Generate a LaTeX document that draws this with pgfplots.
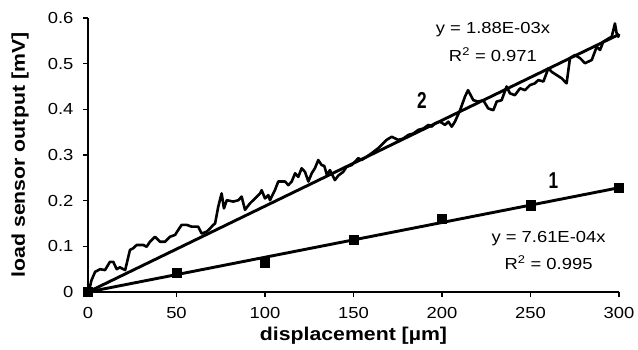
\documentclass[border=0pt]{standalone}
\usepackage{fontspec}
\setmainfont{Liberation Sans}[FakeStretch=1.15]
\usepackage{pgfplots}
\pgfplotsset{compat=1.18}
\begin{document}
\begin{tikzpicture}
\useasboundingbox (-88pt,-57pt) rectangle (550pt,292pt);
\begin{axis}[
 at={(0pt,0pt)}, anchor=south west,
 scale only axis, width=531pt, height=274pt,
 xmin=0, xmax=300, ymin=0, ymax=0.6,
 axis lines=left, axis line style={-, line width=1.3pt},
 tick align=outside, major tick length=5pt, tick style={line width=1.3pt, black},
 xtick={0,50,100,150,200,250,300}, xticklabels={0,50,100,150,200,250,300},
 ytick={0,0.1,0.2,0.3,0.4,0.5,0.6}, yticklabels={0,0.1,0.2,0.3,0.4,0.5,0.6},
 ticklabel style={font=\fontsize{16}{19}\selectfont},
 xticklabel style={yshift=-7pt},
 yticklabel style={xshift=-6pt},
 xlabel={displacement [µm]}, ylabel={load sensor output [mV]},
 label style={font=\fontsize{18.5}{22}\selectfont\bfseries},
 x label style={at={(axis description cs:0.5,-0.158)}, anchor=center},
 y label style={at={(axis description cs:-0.128,0.5)}, anchor=center},
 clip=false,
]
% series 2: measured curve
\addplot[black, line width=2.6pt, line join=round, no marks] coordinates {
(0,0) (1,0.01) (2,0.026) (4,0.044) (6.8,0.05) (9.6,0.048) (12.4,0.066) (14.3,0.066)
(16.2,0.05) (18,0.054) (20,0.05) (21,0.048) (23.7,0.092) (25.6,0.096) (27.5,0.103)
(31.3,0.103) (33.1,0.099) (35,0.11) (37.9,0.121) (40.7,0.11) (43.5,0.11) (46.3,0.121)
(49.2,0.125) (51,0.136) (52.9,0.147) (55.8,0.147) (58.6,0.143) (62.3,0.143) (64.2,0.128)
(67,0.132) (68.9,0.139) (70.8,0.147) (71.8,0.150) (73.6,0.187) (75.5,0.216) (76.8,0.183)
(78.4,0.201) (82.1,0.198) (85,0.201) (86.8,0.209) (88.7,0.180) (91.5,0.194) (94.4,0.205)
(97.2,0.216) (98.1,0.223) (100,0.205) (101.9,0.212) (102.8,0.201) (105.6,0.223) (107.5,0.242)
(111.3,0.242) (113.2,0.234) (115.1,0.242) (117,0.260) (118.8,0.252) (120.7,0.271) (122.6,0.263)
(124.5,0.242) (126.4,0.260) (128.2,0.271) (130.1,0.289) (132,0.278) (133.5,0.276) (135,0.256)
(136.7,0.267) (139.5,0.245) (141.4,0.255) (144.2,0.263) (146.1,0.274) (149,0.278) (150.8,0.285)
(152.7,0.293) (154.6,0.289) (157.4,0.296) (160.3,0.304) (164,0.315) (168.7,0.333) (171.6,0.340)
(175.3,0.333) (178.1,0.336) (181,0.344) (183.8,0.347) (186.6,0.355) (189.5,0.358) (192.3,0.366)
(194.1,0.362) (196,0.369) (198.9,0.373) (201.7,0.366) (203.6,0.373) (205.5,0.362) (207.3,0.373)
(210.2,0.398) (213,0.428) (214.7,0.442) (217.7,0.420) (220.5,0.417) (223.3,0.420) (226.1,0.402)
(229,0.398) (230.9,0.417) (233.7,0.420) (236.5,0.450) (238.4,0.435) (241.2,0.431) (244.1,0.446)
(246.9,0.442) (249.7,0.453) (252.5,0.457) (254.4,0.464) (257.3,0.461) (260.1,0.490) (262,0.482)
(264.8,0.475) (267.6,0.468) (270.4,0.457) (272.3,0.512) (275.1,0.519) (278,0.512) (280.8,0.501)
(284.6,0.508) (287.4,0.537) (289.3,0.530) (291.1,0.548) (294,0.555) (295.9,0.559) (297.7,0.588)
(298.7,0.566) (299.6,0.559) (300,0.565)
};
% trend line 2
\addplot[black, line width=2.9pt, no marks] coordinates {(0,0) (300,0.564)};
% trend line 1
\addplot[black, line width=2.9pt, no marks] coordinates {(0,0) (300,0.2283)};
% series 1: square markers
\addplot[black, only marks, mark=square*, mark size=4.6pt] coordinates {
(0,0) (50,0.043) (100,0.064) (150,0.115) (200,0.160) (250,0.190) (300,0.229)
};
\node[font=\fontsize{16}{19}\selectfont] at (axis cs:228.8,0.574) {y = 1.88E-03x};
\node[font=\fontsize{16}{19}\selectfont] at (axis cs:228.8,0.519) {R\textsuperscript{2} = 0.971};
\node[font=\fontsize{16}{19}\selectfont] at (axis cs:260.2,0.1176) {y = 7.61E-04x};
\node[font=\fontsize{16}{19}\selectfont] at (axis cs:260.2,0.0646) {R\textsuperscript{2} = 0.995};
\node[font=\fontsize{23}{26}\selectfont\bfseries, xscale=0.65] at (axis cs:188.7,0.420) {2};
\node[font=\fontsize{23}{26}\selectfont\bfseries, xscale=0.65] at (axis cs:262.9,0.245) {1};
\end{axis}
\end{tikzpicture}
\end{document}
